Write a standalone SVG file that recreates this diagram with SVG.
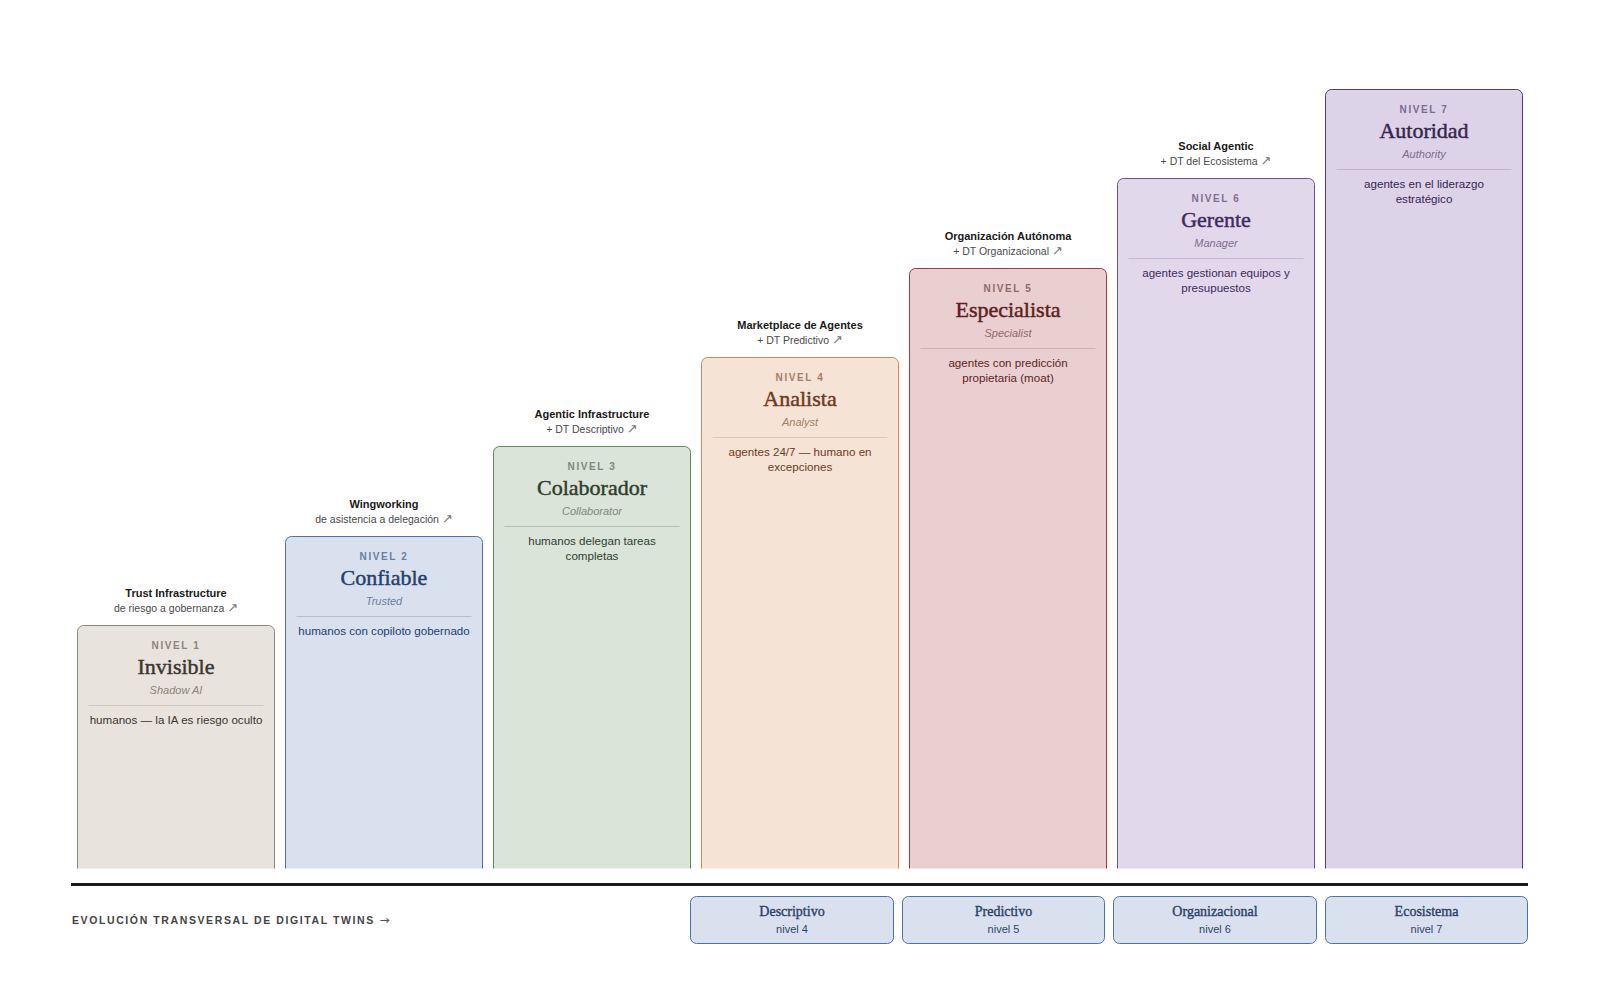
<svg xmlns="http://www.w3.org/2000/svg" width="1600" height="1000" viewBox="0 0 1600 1000">
<style>
.hd{font-family:"Liberation Sans",Arial,sans-serif;font-size:11px;font-weight:bold;fill:#1a1a1a;text-anchor:middle}
.hs{font-family:"Liberation Sans",Arial,sans-serif;font-size:10.5px;fill:#4a4a4a;text-anchor:middle}
.ar{font-family:"DejaVu Sans",sans-serif;font-size:13px;fill:#777}
.nv{font-family:"Liberation Sans",Arial,sans-serif;font-size:10px;font-weight:bold;letter-spacing:1.6px;text-anchor:middle}
.tt{font-family:"Liberation Serif","Times New Roman",serif;font-size:22px;stroke-width:0.45px;text-anchor:middle}
.st{font-family:"Liberation Sans",Arial,sans-serif;font-size:11px;font-style:italic;text-anchor:middle}
.bd{font-family:"Liberation Sans",Arial,sans-serif;font-size:11.6px;text-anchor:middle}
.ft{font-family:"Liberation Serif","Times New Roman",serif;font-size:14px;fill:#2a4068;stroke:#2a4068;stroke-width:0.35px;text-anchor:middle}
.fs{font-family:"Liberation Sans",Arial,sans-serif;font-size:11px;fill:#2f4366;text-anchor:middle}
.fb{fill:#dae1ee;stroke:#4d72aa;stroke-width:1}
.lb{font-family:"Liberation Sans",Arial,sans-serif;font-size:10.5px;font-weight:bold;letter-spacing:1.6px;fill:#444}
.la{font-family:"DejaVu Sans",sans-serif;font-size:12px;font-weight:normal;fill:#555}
</style>
<rect width="1600" height="1000" fill="#ffffff"/>

<g id="nivel1">
<text class="hd" x="176" y="597">Trust Infrastructure</text>
<text class="hs" x="176" y="612">de riesgo a gobernanza <tspan class="ar">↗</tspan></text>
<path d="M77.5,868.5 V631.5 A6,6 0 0 1 83.5,625.5 H268.5 A6,6 0 0 1 274.5,631.5 V868.5" fill="#e8e3dd" stroke="#8c8474"/>
<text class="nv" x="176" y="648.5" fill="#8b857b">NIVEL 1</text>
<text class="tt" x="176" y="673.5" fill="#3b3630" stroke="#3b3630">Invisible</text>
<text class="st" x="176" y="693.5" fill="#8b857b">Shadow AI</text>
<line x1="88.5" y1="705.5" x2="263.5" y2="705.5" stroke="#cfc8bd"/>
<text class="bd" x="176" y="723.5" fill="#3b3630">humanos — la IA es riesgo oculto</text>
</g>

<g id="nivel2">
<text class="hd" x="384" y="508">Wingworking</text>
<text class="hs" x="384" y="523">de asistencia a delegación <tspan class="ar">↗</tspan></text>
<path d="M285.5,868.5 V542.5 A6,6 0 0 1 291.5,536.5 H476.5 A6,6 0 0 1 482.5,542.5 V868.5" fill="#dae1ee" stroke="#4d72aa"/>
<text class="nv" x="384" y="559.5" fill="#6b7f9e">NIVEL 2</text>
<text class="tt" x="384" y="584.5" fill="#25406b" stroke="#25406b">Confiable</text>
<text class="st" x="384" y="604.5" fill="#6b7f9e">Trusted</text>
<line x1="296.5" y1="616.5" x2="471.5" y2="616.5" stroke="#b3bfd3"/>
<text class="bd" x="384" y="634.5" fill="#25406b">humanos con copiloto gobernado</text>
</g>

<g id="nivel3">
<text class="hd" x="592" y="418">Agentic Infrastructure</text>
<text class="hs" x="592" y="433">+ DT Descriptivo <tspan class="ar">↗</tspan></text>
<path d="M493.5,868.5 V452.5 A6,6 0 0 1 499.5,446.5 H684.5 A6,6 0 0 1 690.5,452.5 V868.5" fill="#dae4d9" stroke="#5d8c58"/>
<text class="nv" x="592" y="469.5" fill="#7d8a7a">NIVEL 3</text>
<text class="tt" x="592" y="494.5" fill="#2e3e2c" stroke="#2e3e2c">Colaborador</text>
<text class="st" x="592" y="514.5" fill="#7d8a7a">Collaborator</text>
<line x1="504.5" y1="526.5" x2="679.5" y2="526.5" stroke="#b5c4b2"/>
<text class="bd" x="592" y="545" fill="#2e3e2c">humanos delegan tareas</text>
<text class="bd" x="592" y="560" fill="#2e3e2c">completas</text>
</g>

<g id="nivel4">
<text class="hd" x="800" y="329">Marketplace de Agentes</text>
<text class="hs" x="800" y="344">+ DT Predictivo <tspan class="ar">↗</tspan></text>
<path d="M701.5,868.5 V363.5 A6,6 0 0 1 707.5,357.5 H892.5 A6,6 0 0 1 898.5,363.5 V868.5" fill="#f5e3d6" stroke="#dc8550"/>
<text class="nv" x="800" y="380.5" fill="#a57d66">NIVEL 4</text>
<text class="tt" x="800" y="405.5" fill="#6e3a1e" stroke="#6e3a1e">Analista</text>
<text class="st" x="800" y="425.5" fill="#a57d66">Analyst</text>
<line x1="712.5" y1="437.5" x2="887.5" y2="437.5" stroke="#dcc5b5"/>
<text class="bd" x="800" y="456" fill="#6e3a1e">agentes 24/7 — humano en</text>
<text class="bd" x="800" y="471" fill="#6e3a1e">excepciones</text>
</g>

<g id="nivel5">
<text class="hd" x="1008" y="240">Organización Autónoma</text>
<text class="hs" x="1008" y="255">+ DT Organizacional <tspan class="ar">↗</tspan></text>
<path d="M909.5,868.5 V274.5 A6,6 0 0 1 915.5,268.5 H1100.5 A6,6 0 0 1 1106.5,274.5 V868.5" fill="#eacfd0" stroke="#a33a3a"/>
<text class="nv" x="1008" y="291.5" fill="#8f6b6b">NIVEL 5</text>
<text class="tt" x="1008" y="316.5" fill="#5b1f1f" stroke="#5b1f1f">Especialista</text>
<text class="st" x="1008" y="336.5" fill="#8f6b6b">Specialist</text>
<line x1="920.5" y1="348.5" x2="1095.5" y2="348.5" stroke="#d1b0b1"/>
<text class="bd" x="1008" y="367" fill="#5b1f1f">agentes con predicción</text>
<text class="bd" x="1008" y="382" fill="#5b1f1f">propietaria (moat)</text>
</g>

<g id="nivel6">
<text class="hd" x="1216" y="150">Social Agentic</text>
<text class="hs" x="1216" y="165">+ DT del Ecosistema <tspan class="ar">↗</tspan></text>
<path d="M1117.5,868.5 V184.5 A6,6 0 0 1 1123.5,178.5 H1308.5 A6,6 0 0 1 1314.5,184.5 V868.5" fill="#e2d8eb" stroke="#6c5296"/>
<text class="nv" x="1216" y="201.5" fill="#7e6f92">NIVEL 6</text>
<text class="tt" x="1216" y="226.5" fill="#3d2c5c" stroke="#3d2c5c">Gerente</text>
<text class="st" x="1216" y="246.5" fill="#7e6f92">Manager</text>
<line x1="1128.5" y1="258.5" x2="1303.5" y2="258.5" stroke="#c5b9d3"/>
<text class="bd" x="1216" y="277" fill="#3d2c5c">agentes gestionan equipos y</text>
<text class="bd" x="1216" y="292" fill="#3d2c5c">presupuestos</text>
</g>

<g id="nivel7">
<path d="M1325.5,868.5 V95.5 A6,6 0 0 1 1331.5,89.5 H1516.5 A6,6 0 0 1 1522.5,95.5 V868.5" fill="#ddd3e8" stroke="#4f3b7a"/>
<text class="nv" x="1424" y="112.5" fill="#7a6c8e">NIVEL 7</text>
<text class="tt" x="1424" y="137.5" fill="#35264f" stroke="#35264f">Autoridad</text>
<text class="st" x="1424" y="157.5" fill="#7a6c8e">Authority</text>
<line x1="1336.5" y1="169.5" x2="1511.5" y2="169.5" stroke="#c0b4cf"/>
<text class="bd" x="1424" y="188" fill="#35264f">agentes en el liderazgo</text>
<text class="bd" x="1424" y="203" fill="#35264f">estratégico</text>
</g>

<g id="connectors">
<line x1="71" y1="884.5" x2="1528" y2="884.5" stroke="#1a1a1a" stroke-width="3"/>
</g>

<g id="footer-label">
<text class="lb" x="72" y="924">EVOLUCIÓN TRANSVERSAL DE DIGITAL TWINS <tspan class="la">→</tspan></text>
</g>

<g id="dt-descriptivo">
<rect class="fb" x="690.5" y="896.5" width="203" height="47" rx="6"/>
<text class="ft" x="792" y="915.5">Descriptivo</text>
<text class="fs" x="792" y="933">nivel 4</text>
</g>
<g id="dt-predictivo">
<rect class="fb" x="902.5" y="896.5" width="202" height="47" rx="6"/>
<text class="ft" x="1003.5" y="915.5">Predictivo</text>
<text class="fs" x="1003.5" y="933">nivel 5</text>
</g>
<g id="dt-organizacional">
<rect class="fb" x="1113.5" y="896.5" width="203" height="47" rx="6"/>
<text class="ft" x="1215" y="915.5">Organizacional</text>
<text class="fs" x="1215" y="933">nivel 6</text>
</g>
<g id="dt-ecosistema">
<rect class="fb" x="1325.5" y="896.5" width="202" height="47" rx="6"/>
<text class="ft" x="1426.5" y="915.5">Ecosistema</text>
<text class="fs" x="1426.5" y="933">nivel 7</text>
</g>
</svg>
